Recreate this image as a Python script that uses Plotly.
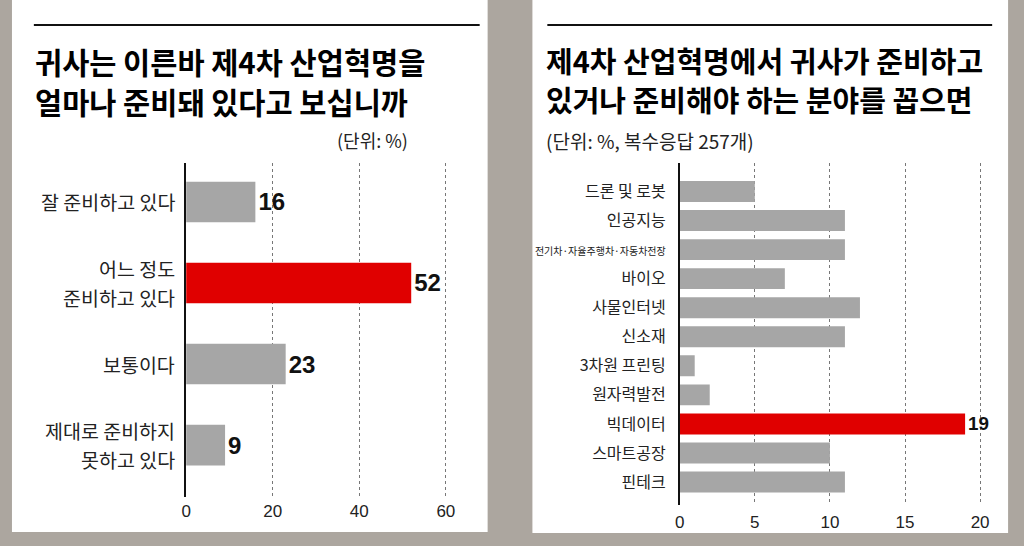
import plotly.graph_objects as go

# ---------------- data ----------------
left_categories = ["잘 준비하고 있다", "어느 정도<br>준비하고 있다", "보통이다", "제대로 준비하지<br>못하고 있다"]
left_values = [16, 52, 23, 9]
left_ticks = [0, 20, 40, 60]

right_categories = ["드론 및 로봇", "인공지능", "전기차·자율주행차·자동차전장", "바이오", "사물인터넷",
                    "신소재", "3차원 프린팅", "원자력발전", "빅데이터", "스마트공장", "핀테크"]
right_values = [5, 11, 11, 7, 12, 11, 1, 2, 19, 10, 11]
right_ticks = [0, 5, 10, 15, 20]

left_title = ["귀사는 이른바 제4차 산업혁명을", "얼마나 준비돼 있다고 보십니까"]
left_unit = "(단위: %)"
right_title = ["제4차 산업혁명에서 귀사가 준비하고", "있거나 준비해야 하는 분야를 꼽으면"]
right_unit = "(단위: %, 복수응답 257개)"

# ---------------- styles ----------------
W, H = 1024, 546
BG = "#aca69f"
GREY = "#a6a6a6"
RED = "#e00000"
KR = "Noto Sans CJK KR"
NUM = "Liberation Sans Narrow, Liberation Sans, Arial, sans-serif"


def px(x):
    return x / W


def py(y):
    return 1 - y / H


def colors(vals):
    m = max(vals)
    return [RED if v == m else GREY for v in vals]


fig = go.Figure()

fig.add_trace(go.Bar(
    x=left_values, y=left_categories, orientation="h",
    marker=dict(color=colors(left_values), line=dict(width=0)),
    width=0.5,
    text=[str(v) for v in left_values], textposition="outside",
    textfont=dict(family=NUM, size=24, color="#111", weight="bold"),
    cliponaxis=False, hoverinfo="skip", xaxis="x", yaxis="y",
))

m = max(right_values)
right_ticktext = [
    '<span style="font-size:10px">' + c + '</span>' if len(c) > 8 else c
    for c in right_categories
]
fig.add_trace(go.Bar(
    x=right_values, y=right_categories, orientation="h",
    marker=dict(color=colors(right_values), line=dict(width=0)),
    width=0.72,
    text=[str(v) if v == m else "" for v in right_values], textposition="outside",
    textfont=dict(family=NUM, size=27, color="#111", weight="bold"),
    cliponaxis=False, hoverinfo="skip", xaxis="x2", yaxis="y2",
))

grid = dict(showgrid=True, gridcolor="#777", griddash="dot", gridwidth=1,
            zeroline=False, showline=False, ticks="",
            tickfont=dict(family=NUM, size=17, color="#222"))

# left axis: 4.35 px per unit, extra room on the right for the value labels
fig.update_layout(
    width=W, height=H,
    margin=dict(l=0, r=0, t=0, b=0),
    paper_bgcolor=BG, plot_bgcolor="rgba(0,0,0,0)",
    showlegend=False,
    xaxis=dict(domain=[px(182), px(182 + 66 * 4.35)], range=[0, 66], tickvals=left_ticks,
               anchor="y", ticklabelstandoff=2, **grid),
    yaxis=dict(domain=[py(497), py(163)], type="category",
               categoryorder="array", categoryarray=left_categories,
               range=[3.64, -0.48], anchor="x",
               showline=True, linecolor="#111", linewidth=1.5,
               showgrid=False, zeroline=False, ticks="", showticklabels=False),
    xaxis2=dict(domain=[px(678), px(995)], range=[0, 21], tickvals=right_ticks,
                anchor="y2", ticklabelstandoff=5, **grid),
    yaxis2=dict(domain=[py(505), py(163)], type="category",
                categoryorder="array", categoryarray=right_categories,
                tickmode="array", tickvals=right_categories, ticktext=right_ticktext,
                range=[10.79, -0.98], anchor="x2",
                showline=True, linecolor="#111", linewidth=1.5,
                showgrid=False, zeroline=False, ticks="", ticklabelstandoff=9,
                tickfont=dict(family=KR, size=16, color="#222")),
)

# left category labels (one text per line, with the reference's line spacing)
for cat in left_categories:
    lines = cat.split("<br>")
    n = len(lines)
    for k, line in enumerate(lines):
        fig.add_annotation(text=line, xref="paper", yref="y", x=px(173), y=cat,
                           yshift=(n - 1) * 14.5 - k * 29,
                           xanchor="right", yanchor="middle", showarrow=False,
                           font=dict(family=KR, size=19.5, color="#222"))

# panels and rules
fig.add_shape(type="rect", xref="paper", yref="paper", layer="below",
              x0=px(7), x1=px(485), y0=py(532), y1=1.01, fillcolor="white", line=dict(width=0))
fig.add_shape(type="rect", xref="paper", yref="paper", layer="below",
              x0=px(530), x1=px(1008), y0=py(533), y1=1.01, fillcolor="white", line=dict(width=0))
fig.add_shape(type="line", xref="paper", yref="paper",
              x0=px(29), x1=px(477), y0=py(25), y1=py(25), line=dict(color="#111", width=2))
fig.add_shape(type="line", xref="paper", yref="paper",
              x0=px(545), x1=px(992), y0=py(25), y1=py(25), line=dict(color="#111", width=2))

# titles
for t, yc in zip(left_title, [61, 101]):
    fig.add_annotation(text=t, xref="paper", yref="paper", x=px(28), y=py(yc),
                       xanchor="left", yanchor="middle", showarrow=False,
                       font=dict(family=KR, size=29.5, color="#000", weight="bold"))
for t, yc in zip(right_title, [60, 99]):
    fig.add_annotation(text=t, xref="paper", yref="paper", x=px(542), y=py(yc),
                       xanchor="left", yanchor="middle", showarrow=False,
                       font=dict(family=KR, size=29, color="#000", weight="bold"))
fig.add_annotation(text=left_unit, xref="paper", yref="paper", x=px(407), y=py(140),
                   xanchor="right", yanchor="middle", showarrow=False,
                   font=dict(family=KR, size=18, color="#222"))
fig.add_annotation(text=right_unit, xref="paper", yref="paper", x=px(542), y=py(141),
                   xanchor="left", yanchor="middle", showarrow=False,
                   font=dict(family=KR, size=19, color="#222"))

fig.write_html("out.html", config={"displayModeBar": False},
               post_script="document.body.style.margin='0';document.body.style.overflow='hidden';")
